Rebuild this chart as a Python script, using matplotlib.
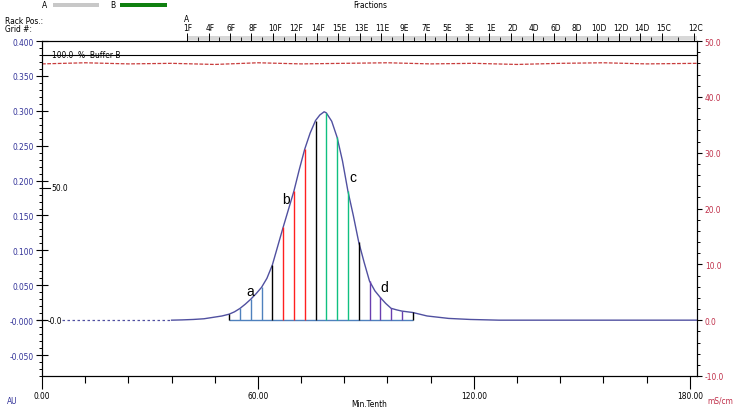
import numpy as np
import matplotlib
matplotlib.use('Agg')
import matplotlib.pyplot as plt
import matplotlib.transforms as mtransforms
from matplotlib.patches import Rectangle
from matplotlib.ticker import MultipleLocator

plt.rcParams['font.family'] = ['Liberation Sans Narrow', 'DejaVu Sans']
plt.rcParams['font.stretch'] = 'condensed'

# --- data (x in Min.Tenth, UV in AU) ---
uv_lead_x = [5.5, 36.0]
uv_lead_y = [0.0, 0.0]
uv_x = [36.0, 39.0, 42.0, 45.0, 47.5, 50.0, 52.0, 53.5, 55.0, 56.5, 58.0, 59.5,
        61.0, 62.5, 64.0, 65.5, 67.0, 68.5, 70.0, 71.5, 73.0, 74.5, 76.0, 77.2,
        78.4, 79.0, 80.5, 82.0, 83.5, 85.0, 86.5, 88.0, 89.5, 91.0, 92.5, 94.0,
        95.5, 97.0, 98.5, 100.0, 103.0, 107.0, 113.0, 119.0, 127.0, 182.0]
uv_y = [0.0, 0.0004, 0.001, 0.002, 0.004, 0.006, 0.0086, 0.012, 0.0168, 0.023,
        0.030, 0.038, 0.047, 0.060, 0.079, 0.106, 0.133, 0.159, 0.185, 0.216,
        0.245, 0.268, 0.286, 0.294, 0.2986, 0.297, 0.285, 0.262, 0.228, 0.185,
        0.150, 0.112, 0.083, 0.056, 0.042, 0.0325, 0.024, 0.017, 0.0148, 0.013,
        0.011, 0.006, 0.0025, 0.001, 0.0, 0.0]

# collected fractions (drop lines)
frac_x = [52, 55, 58, 61, 64, 67, 70, 73, 76, 79, 82, 85, 88, 91, 94, 97, 100, 103]
frac_h = [0.0086, 0.0168, 0.030, 0.047, 0.079, 0.133, 0.185, 0.245, 0.286, 0.297,
          0.262, 0.185, 0.112, 0.056, 0.0325, 0.017, 0.013, 0.011]
frac_col = ['#000000', '#4f81bd', '#4f81bd', '#4f81bd', '#000000',
            '#ff2020', '#ff2020', '#ff2020', '#000000',
            '#10c080', '#10c080', '#10c080', '#000000',
            '#6a3fb0', '#6a3fb0', '#6a3fb0', '#6a3fb0', '#000000']

peak_labels = ['a', 'b', 'c', 'd']
peak_lx = [57.8, 67.8, 86.5, 95.1]
peak_ly = [0.042, 0.173, 0.205, 0.047]

# conductivity (mS/cm), flat with small ripple
cond_x = [0, 12, 24, 36, 48, 60, 72, 84, 96, 108, 120, 132, 144, 156, 168, 182]
cond_y = [45.9, 46.1, 45.9, 46.0, 45.8, 46.1, 45.9, 46.0, 46.1, 45.9, 46.0, 45.8,
          46.0, 46.1, 45.9, 46.0]

buffer_b = 0.38  # 100 % B line position on the AU scale

# fraction collector strip
frac_names = ['1F', '4F', '6F', '8F', '10F', '12F', '14F', '15E', '13E', '11E', '9E',
              '7E', '5E', '3E', '1E', '2D', '4D', '6D', '8D', '10D', '12D', '14D',
              '15C', '12C']
frac_tick_x = [40.2, 46.4, 52.2, 58.2, 64.3, 70.3, 76.3, 82.3, 88.3, 94.3, 100.3,
               106.3, 112.3, 118.3, 124.3, 130.3, 136.3, 142.3, 148.3, 154.3,
               160.3, 166.3, 172.3, 181.3]

left_ticks = [0.4, 0.35, 0.3, 0.25, 0.2, 0.15, 0.1, 0.05, 0.0, -0.05]
left_labels = ['0.400', '0.350', '0.300', '0.250', '0.200', '0.150', '0.100',
               '0.050', '-0.000', '-0.050']
right_ticks = [50, 40, 30, 20, 10, 0, -10]
right_labels = ['50.0', '40.0', '30.0', '20.0', '10.0', '0.0', '-10.0']
x_ticks = [0, 60, 120, 180]
x_labels = ['0.00', '60.00', '120.00', '180.00']

W, H = 742, 410
fig = plt.figure(figsize=(W / 100, H / 100), dpi=100)
ax = fig.add_axes([42 / W, 1 - 377 / H, 655 / W, 335 / H])
ax.set_xlim(0, 182)
ax.set_ylim(-0.08, 0.4)

navy = '#333399'
red = '#c0304a'

# UV trace
ax.plot(uv_lead_x, uv_lead_y, color='#5050a0', lw=0.9, ls=(0, (2, 2)))
ax.plot(uv_x, uv_y, color='#5050a0', lw=1.0)

# fraction drop lines
ax.hlines(0, frac_x[0], frac_x[-1], color='#4f81bd', lw=1.0)
ax.vlines(frac_x, 0, frac_h, colors=frac_col, lw=1.0)
for t, x, y in zip(peak_labels, peak_lx, peak_ly):
    ax.text(x, y, t, fontsize=10, family=['Liberation Sans', 'DejaVu Sans'],
            fontstretch='normal', ha='center', va='center')

# 100 % buffer B line and %B marks
ax.axhline(buffer_b, color='black', lw=0.8)
ax.text(2.9, buffer_b, '100.0  %  Buffer B', fontsize=6, va='center', ha='left')
ax.plot([-0.6, 2.2], [buffer_b / 2, buffer_b / 2], color='black', lw=0.8, clip_on=False)
ax.text(2.7, buffer_b / 2, '50.0', fontsize=6, va='center', ha='left')
ax.plot([-1.5, 0.8], [0, 0], color='black', lw=0.8, clip_on=False)
ax.text(1.6, 0, '-0.0', fontsize=6, va='center', ha='left')

# left axis
ax.set_yticks(left_ticks)
ax.set_yticklabels(left_labels)
ax.yaxis.set_minor_locator(MultipleLocator(0.01))
ax.tick_params(axis='y', which='major', direction='inout', length=8, width=0.8,
               labelsize=6, labelcolor=navy, pad=2)
ax.tick_params(axis='y', which='minor', direction='out', length=2.2, width=0.7)

# bottom axis
ax.set_xticks(x_ticks)
ax.set_xticklabels(x_labels)
ax.xaxis.set_minor_locator(MultipleLocator(12))
ax.tick_params(axis='x', which='major', direction='out', length=9, width=0.8,
               labelsize=6, pad=1.5)
ax.tick_params(axis='x', which='minor', direction='out', length=5, width=0.8)
for s in ax.spines.values():
    s.set_linewidth(0.8)

# right axis: conductivity
ax2 = ax.twinx()
ax2.set_ylim(-10, 50)
ax2.plot(cond_x, cond_y, color='#c83c3c', lw=0.9, ls=(0, (3, 1.2)))
ax2.set_yticks(right_ticks)
ax2.set_yticklabels(right_labels)
ax2.yaxis.set_minor_locator(MultipleLocator(2))
ax2.tick_params(axis='y', which='major', direction='out', length=3.6, width=0.8,
                labelsize=6, labelcolor=red, pad=2)
ax2.tick_params(axis='y', which='minor', direction='out', length=2, width=0.7)
ax2.spines['right'].set_linewidth(0.8)

# fraction strip above the plot
blend = mtransforms.blended_transform_factory(ax.transData, ax.transAxes)
px = 1 / 335
ax.add_patch(Rectangle((frac_tick_x[0], 1 + 0.8 * px), 182 - frac_tick_x[0], 4.5 * px,
                       transform=blend, facecolor='#d8d8d8', edgecolor='none',
                       clip_on=False))
ax.vlines(frac_tick_x, 1, 1 + 8 * px, transform=blend, colors='black', lw=0.7,
          clip_on=False)
mids = [(a + b) / 2 for a, b in zip(frac_tick_x[:-1], frac_tick_x[1:])]
ax.vlines(mids, 1, 1 + 4 * px, transform=blend, colors='black', lw=0.6, clip_on=False)
for name, x in zip(frac_names, frac_tick_x):
    ax.text(x + 0.4, 1 + 13.5 * px, name, transform=blend, fontsize=6,
            ha='center', va='center')
ax.text(frac_tick_x[0], 1 + 22.5 * px, 'A', transform=blend, fontsize=6,
        ha='center', va='center')

# header texts
fig.text(370 / W, 1 - 6 / H, 'Fractions', fontsize=6, ha='center', va='center')
fig.text(5 / W, 1 - 21 / H, 'Rack Pos.:', fontsize=6, ha='left', va='center')
fig.text(5 / W, 1 - 29.5 / H, 'Grid #:', fontsize=6, ha='left', va='center')
fig.text(44.5 / W, 1 - 6 / H, 'A', fontsize=6, ha='center', va='center')
fig.text(112.5 / W, 1 - 6 / H, 'B', fontsize=6, ha='center', va='center')
fig.add_artist(Rectangle((53 / W, 1 - 7.5 / H), 46 / W, 3.6 / H,
                         transform=fig.transFigure, facecolor='#c8c8c8', edgecolor='none'))
fig.add_artist(Rectangle((120 / W, 1 - 7.5 / H), 47 / W, 3.6 / H,
                         transform=fig.transFigure, facecolor='#108010', edgecolor='none'))

fig.text(369.6 / W, 1 - 405 / H, 'Min.Tenth', fontsize=6, ha='center', va='center')
fig.text(12 / W, 1 - 402 / H, 'AU', fontsize=6, color=navy, ha='center', va='center')
fig.text(720 / W, 1 - 401 / H, 'mS/cm', fontsize=6, color=red, ha='center', va='center')

fig.savefig('out.png', dpi=100)
